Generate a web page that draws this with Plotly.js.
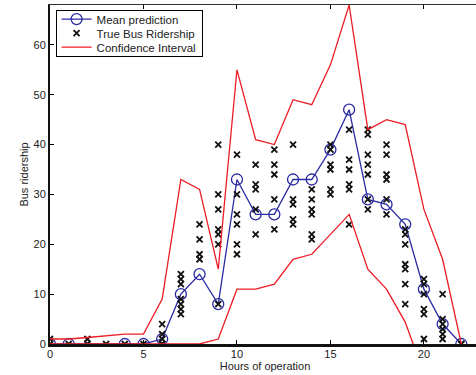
<!DOCTYPE html>
<html>
<head>
<meta charset="utf-8">
<script src="https://cdn.plot.ly/plotly-3.0.1.min.js"></script>
<style>
html, body { margin: 0; padding: 0; overflow: hidden; background: #fff; }
#chart { width: 490px; height: 375px; }
</style>
</head>
<body>
<div id="chart"></div>
<script>
// Hours of operation
const hours = [0,1,2,3,4,5,6,7,8,9,10,11,12,13,14,15,16,17,18,19,20,21,22];
// Mean prediction (null = no prediction marker at that hour)
const meanPrediction = [0,0,null,null,0,0,1,10,14,8,33,26,26,33,33,39,47,29,28,24,11,4,0];
// Confidence interval bounds
const ciUpper = [1,1,1.3,1.7,2,2,9,33,31,15,55,41,40,49,48,56,68,43,45,44,27,17,0];
const ciLower = [0,0,0,0,0,0,0,0,0,1,11,11,12,17,18,22,26,15,11,4.4,-6,-3,0];
// True bus ridership observations per hour
const trueRidership = [
  [0,1],
  [0],
  [0,1],
  [0],
  [0],
  [0],
  [0,0,1,2,4],
  [6,7,8,9,12,13,14],
  [24,21,18,17],
  [40,30,27,23,22,20,8],
  [38,30,26,24,20,18],
  [36,32,31,27,22],
  [39,36,34,29,23],
  [40,29,28,25,24],
  [31,29,27,26,22,21],
  [40,39,36,35,31,30],
  [43,37,35,32,31,24],
  [43,42,38,36,34,29,27],
  [40,38,34,33,29,26],
  [23,22,20,16,15,12,8],
  [13,12,10,7,6,1],
  [10,5,4,3,2,1],
  [0,0]
];
const xTicks = [0,5,10,15,20];
const yTicks = [0,10,20,30,40,50,60];

const truthX = [], truthY = [];
trueRidership.forEach((vals, i) => {
  vals.forEach(v => { truthX.push(hours[i]); truthY.push(v); });
});

const BLUE = '#2b2ba3';
const RED = '#ec1c24';
const FONT = 'Liberation Sans, Arial, Helvetica, sans-serif';

const traces = [
  {
    x: hours, y: meanPrediction, type: 'scatter', mode: 'lines+markers',
    name: 'Mean prediction', connectgaps: true,
    line: {color: BLUE, width: 1.3},
    marker: {symbol: 'circle-open', size: 11, color: BLUE, line: {width: 1.3, color: BLUE}}
  },
  {
    x: truthX, y: truthY, type: 'scatter', mode: 'markers',
    name: 'True Bus Ridership',
    marker: {symbol: 'x-thin-open', size: 6, color: '#111', line: {width: 1.8, color: '#111'}}
  },
  {
    x: hours, y: ciUpper, type: 'scatter', mode: 'lines',
    name: 'Confidence Interval',
    line: {color: RED, width: 1.3}
  },
  {
    x: hours, y: ciLower, type: 'scatter', mode: 'lines',
    name: 'Confidence Interval (lower)', showlegend: false,
    line: {color: RED, width: 1.3}
  },
  {
    // empty trace so the top (mirror) axis is drawn
    x: [], y: [], type: 'scatter', mode: 'markers', xaxis: 'x2', yaxis: 'y',
    showlegend: false, hoverinfo: 'skip'
  }
];

const layout = {
  width: 490, height: 375,
  margin: {l: 50, r: 10, t: 5, b: 31, pad: 0},
  paper_bgcolor: '#fff', plot_bgcolor: '#fff',
  font: {family: FONT, size: 11, color: '#222'},
  showlegend: true,
  legend: {
    x: 0.013, y: 0.985, xanchor: 'left', yanchor: 'top',
    bgcolor: '#fff', bordercolor: '#000', borderwidth: 1,
    font: {family: FONT, size: 11.5, color: '#222'},
    itemwidth: 30, tracegroupgap: 0, traceorder: 'normal'
  },
  xaxis: {
    range: [0, 23], tickvals: xTicks, ticks: 'inside', ticklen: 4,
    tickcolor: '#000', tickwidth: 1,
    showline: true, linecolor: '#111', linewidth: 3,
    showgrid: false, zeroline: false, mirror: false,
    ticklabelstandoff: -2,
    tickfont: {family: FONT, size: 11, color: '#222'},
    title: {text: 'Hours of operation', font: {family: FONT, size: 11, color: '#222'}, standoff: 3}
  },
  xaxis2: {
    overlaying: 'x', side: 'top', anchor: 'y',
    range: [0, 23], tickvals: xTicks, ticks: 'inside', ticklen: 4,
    tickcolor: '#000', showticklabels: false,
    showline: true, linecolor: '#333', linewidth: 1,
    showgrid: false, zeroline: false
  },
  yaxis: {
    range: [0, 68], tickvals: yTicks, ticks: 'inside', ticklen: 4,
    tickcolor: '#000', tickwidth: 1,
    showline: true, linecolor: '#111', linewidth: 2,
    showgrid: false, zeroline: false, mirror: false,
    tickfont: {family: FONT, size: 11, color: '#222'},
    title: {text: 'Bus ridership', font: {family: FONT, size: 11, color: '#222'}, standoff: 3}
  }
};

Plotly.newPlot('chart', traces, layout, {displayModeBar: false, staticPlot: true}).then(gd => {
  // tighten legend rows to match the compact reference legend
  const leg = gd.querySelector('.legend');
  if (!leg) return;
  const items = leg.querySelectorAll('g.traces');
  const rowGap = 14, firstY = 9;
  items.forEach((it, i) => {
    const t = it.getAttribute('transform') || '';
    const m = t.match(/translate\(\s*([-\d.]+)[ ,]+([-\d.]+)\s*\)/);
    const x = m ? m[1] : 1;
    it.setAttribute('transform', 'translate(' + x + ',' + (firstY + i * rowGap) + ')');
  });
  const groups = leg.querySelectorAll('g.groups');
  groups.forEach(g => g.setAttribute('transform', 'translate(0,0)'));
  const bg = leg.querySelector('rect.bg');
  if (bg) bg.setAttribute('height', firstY + (items.length - 1) * rowGap + 9);
});
</script>
</body>
</html>
